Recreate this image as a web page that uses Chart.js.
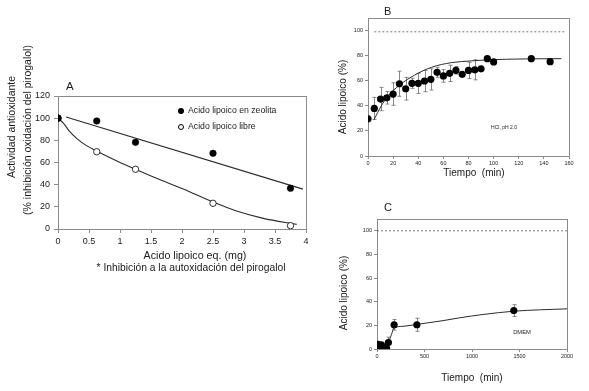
<!DOCTYPE html>
<html>
<head>
<meta charset="utf-8">
<script src="https://cdn.jsdelivr.net/npm/chart.js@4.4.1/dist/chart.umd.min.js"></script>
<style>
  html, body { margin:0; padding:0; background:#fff; }
  #page { position:relative; width:589px; height:391px; overflow:hidden; font-family:"Liberation Sans", Arial, sans-serif; color:#1a1a1a; }
  .box { position:absolute; }
  .txt { position:absolute; white-space:pre; line-height:1; }
  .ctr { transform:translate(-50%,-50%); }
  .rot { transform:translate(-50%,-50%) rotate(-90deg); }
  .dot { position:absolute; width:6px; height:6px; border-radius:50%; box-sizing:border-box; transform:translate(-50%,-50%); }
</style>
</head>
<body>
<div id="page">
  <div class="box" style="left:0;top:80px;width:330px;height:200px"><canvas id="chA" width="330" height="200"></canvas></div>
  <div class="box" style="left:340px;top:0;width:249px;height:190px"><canvas id="chB" width="249" height="190"></canvas></div>
  <div class="box" style="left:340px;top:200px;width:249px;height:191px"><canvas id="chC" width="249" height="191"></canvas></div>

  <!-- panel A text -->
  <div class="txt" style="left:66px;top:81px;font-size:11.5px">A</div>
  <div class="txt rot" style="left:11px;top:127px;font-size:10.5px">Actividad antioxidante</div>
  <div class="txt rot" style="left:27px;top:130px;font-size:10.5px">(% inhibición oxidación del pirogalol)</div>
  <div class="txt ctr" style="left:195px;top:255px;font-size:10.7px">Acido lipoico eq. (mg)</div>
  <div class="txt ctr" style="left:191px;top:268px;font-size:10.3px">* Inhibición a la autoxidación del pirogalol</div>
  <div class="dot" style="left:181px;top:111px;background:#000"></div>
  <div class="txt" style="left:188px;top:106px;font-size:8.7px">Acido lipoico en zeolita</div>
  <div class="dot" style="left:181px;top:127px;background:#fff;border:1px solid #000"></div>
  <div class="txt" style="left:188px;top:122px;font-size:8.7px">Acido lipoico libre</div>

  <!-- panel B text -->
  <div class="txt" style="left:384px;top:6px;font-size:11px">B</div>
  <div class="txt rot" style="left:343px;top:97px;font-size:10px">Acido lipoico (%)</div>
  <div class="txt ctr" style="left:474px;top:173px;font-size:10px">Tiempo  (min)</div>
  <div class="txt ctr" style="left:504px;top:127px;font-size:5px">HCl, pH 2.0</div>

  <!-- panel C text -->
  <div class="txt" style="left:384px;top:202px;font-size:11px">C</div>
  <div class="txt rot" style="left:344px;top:293px;font-size:10px">Acido lipoico (%)</div>
  <div class="txt ctr" style="left:472px;top:378px;font-size:10px">Tiempo  (min)</div>
  <div class="txt ctr" style="left:522px;top:333px;font-size:5.8px">DMEM</div>
</div>

<script>
// ---- Panel A: antioxidant activity vs dose
const doseA = [0, 0.625, 1.25, 2.5, 3.75];
const zeolitaA = [100, 97.4, 78.2, 68.3, 36.7];
const libreA = [100, 69.7, 53.9, 23.2, 3];
const zeoFitX = [0.13, 3.95];
const zeoFitY = [101, 36];
const libFitX = [0, 0.09, 0.19, 0.3, 0.46, 0.62, 0.95, 1.24, 1.59, 2.02, 2.49, 2.88, 3.31, 3.85];
const libFitY = [100, 95.4, 87.8, 81.8, 75.2, 70.4, 61.4, 54.1, 45.7, 36.1, 24.6, 16.2, 9.6, 4.2];
const xTicksA = [0, 0.5, 1, 1.5, 2, 2.5, 3, 3.5, 4];
const yTicksA = [0, 20, 40, 60, 80, 100, 120];

// ---- Panel B: release in HCl pH 2.0
const timeB = [0,5,10,15,20,25,30,35,40,45,50,55,60,65,70,75,80,85,90,95,100,130,145];
const acidB = [29.6,37.9,45.4,46.4,49.4,57.6,53.6,57.9,57.9,59.8,61.1,66.7,63.8,65.9,68.3,65.1,68.2,68.7,69.5,77.6,75,77.6,75.2];
const errB  = [0,8.8,9.3,5,9,10,9,4,8,8.5,8.5,4,5,6.5,3,0,6.5,8,0,0,0,0,0];
const bFitX = [4.8, 10.6, 15.9, 25.2, 37.2, 50.5, 66.4, 82.3, 94.3, 126, 154];
const bFitY = [29, 40, 47.8, 56.6, 64.5, 70.7, 74.4, 75.8, 76.6, 77.4, 77.6];
const refBX = [5, 157];
const refBY = [99, 99];
const xTicksB = [0, 20, 40, 60, 80, 100, 120, 140, 160];
const yTicksB = [0, 20, 40, 60, 80, 100];

// ---- Panel C: release in DMEM
const timeC = [0, 10, 20, 30, 45, 60, 90, 100, 120, 180, 420, 1440];
const acidC = [3, 4, 2, 1.5, 3.5, 2, 1.5, 0.5, 5.5, 20.5, 20.5, 32.5];
const errC  = [0, 0, 0, 0, 0, 0, 0, 0, 4.5, 4.5, 5.5, 5];
const cFitX = [120, 126, 152, 179, 274, 421, 695, 871, 1116, 1443, 2000];
const cFitY = [5, 6.5, 12.2, 17.8, 19.2, 20.8, 24, 26.4, 29.2, 32, 34];
const refCX = [0, 2000];
const refCY = [100, 100];
const xTicksC = [0, 500, 1000, 1500, 2000];
const yTicksC = [0, 20, 40, 60, 80, 100];

const FONT = '"Liberation Sans", Arial, sans-serif';
const pts = (xs, ys) => xs.map((x, i) => ({ x, y: ys[i] }));

// gray box around the plot area
const boxPlugin = {
  id: "box",
  beforeDatasetsDraw(chart) {
    const { ctx, chartArea: a } = chart;
    ctx.save();
    ctx.strokeStyle = "#8a8a8a";
    ctx.lineWidth = 1;
    ctx.strokeRect(Math.round(a.left) + 0.5, Math.round(a.top) + 0.5,
      Math.round(a.right - a.left), Math.round(a.bottom - a.top));
    ctx.restore();
  }
};

// vertical error bars from dataset.errors
const errorBars = {
  id: "errorBars",
  beforeDatasetsDraw(chart) {
    const { ctx } = chart;
    const xs = chart.scales.x, ys = chart.scales.y;
    chart.data.datasets.forEach(ds => {
      if (!ds.errors) return;
      ctx.save();
      ctx.strokeStyle = "#6a6a6a";
      ctx.lineWidth = 0.8;
      ds.data.forEach((p, j) => {
        const e = ds.errors[j];
        if (!e) return;
        const x = Math.round(xs.getPixelForValue(p.x)) + 0.5;
        const y1 = ys.getPixelForValue(p.y + e), y2 = ys.getPixelForValue(p.y - e);
        ctx.beginPath();
        ctx.moveTo(x, y1); ctx.lineTo(x, y2);
        ctx.moveTo(x - 2, y1); ctx.lineTo(x + 2, y1);
        ctx.moveTo(x - 2, y2); ctx.lineTo(x + 2, y2);
        ctx.stroke();
      });
      ctx.restore();
    });
  }
};

function axis(ticks, min, max, size, fontSize, tickLen, pad, horizontal) {
  return {
    type: "linear", min, max,
    afterBuildTicks: s => { s.ticks = ticks.map(v => ({ value: v })); },
    afterFit: s => { if (horizontal) s.height = size; else s.width = size; },
    border: { display: false },
    grid: { drawOnChartArea: false, drawTicks: true, tickLength: tickLen, tickColor: "#8a8a8a" },
    ticks: {
      color: "#1a1a1a", font: { family: FONT, size: fontSize }, padding: pad,
      maxRotation: 0, autoSkip: false, callback: v => String(v)
    }
  };
}

function makeChart(id, datasets, scales, padding) {
  return new Chart(document.getElementById(id), {
    type: "scatter",
    data: { datasets },
    options: {
      responsive: false,
      animation: false,
      layout: { padding },
      plugins: { legend: { display: false }, tooltip: { enabled: false } },
      scales
    },
    plugins: [boxPlugin, errorBars]
  });
}

const fitLine = (data, w) => ({
  data, showLine: true, pointRadius: 0, borderColor: "#2b2b2b", borderWidth: w || 1,
  cubicInterpolationMode: "monotone", fill: false
});
const dashLine = data => ({
  data, showLine: true, pointRadius: 0, borderColor: "#555", borderWidth: 0.8, borderDash: [2, 2], fill: false
});

// Panel A
makeChart("chA", [
  { data: pts(doseA, zeolitaA), pointRadius: 3.3, pointBackgroundColor: "#000", pointBorderColor: "#000", pointBorderWidth: 0.5 },
  { data: pts(doseA, libreA), pointRadius: 3.2, pointBackgroundColor: "#fff", pointBorderColor: "#000", pointBorderWidth: 0.8 },
  fitLine(pts(zeoFitX, zeoFitY), 1.1),
  fitLine(pts(libFitX, libFitY), 1.1)
], {
  x: axis(xTicksA, 0, 4, 16, 9, 4, 3, true),
  y: axis(yTicksA, 0, 120, 30, 9, 4, 4, false)
}, { left: 28, right: 24, top: 16, bottom: 35 });

// Panel B
makeChart("chB", [
  { data: pts(timeB, acidB), errors: errB, pointRadius: 3.6, pointBackgroundColor: "#000", pointBorderColor: "#000", pointBorderWidth: 0 },
  fitLine(pts(bFitX, bFitY)),
  dashLine(pts(refBX, refBY))
], {
  x: axis(xTicksB, 0, 160, 12, 5.5, 3, 1, true),
  y: axis(yTicksB, 0, 110, 18, 5.5, 3, 2, false)
}, { left: 10, right: 20, top: 18, bottom: 22 });

// Panel C
makeChart("chC", [
  { data: pts(timeC, acidC), errors: errC, pointRadius: 3.6, pointBackgroundColor: "#000", pointBorderColor: "#000", pointBorderWidth: 0 },
  fitLine(pts(cFitX, cFitY)),
  dashLine(pts(refCX, refCY))
], {
  x: axis(xTicksC, 0, 2000, 12, 5.5, 3, 1, true),
  y: axis(yTicksC, 0, 110, 18, 5.5, 3, 2, false)
}, { left: 19, right: 22, top: 19, bottom: 30 });
</script>
</body>
</html>
